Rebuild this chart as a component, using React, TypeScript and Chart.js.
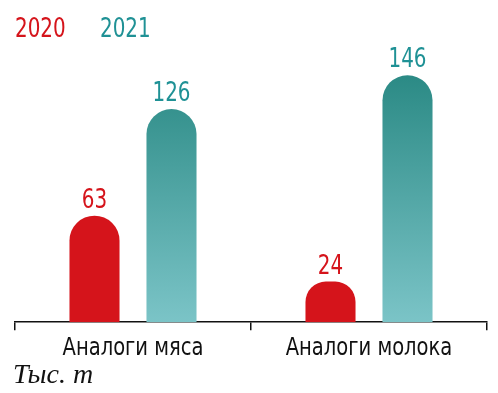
import React, { useEffect, useRef } from 'react';
import { Chart, registerables } from 'chart.js';

Chart.register(...registerables);

const categories = ['Аналоги мяса', 'Аналоги молока'];
const seriesNames = ['2020', '2021'];
const values2020 = [63, 24];
const values2021 = [126, 146];
const unitLabel = 'Тыс. т';

const RED = '#d5141b';
const TEAL_TEXT = '#1f9195';
const TEAL_TOP = '#2b8a85';
const TEAL_BOTTOM = '#7bc4c7';
const NARROW = "'DejaVu Sans Condensed', 'DejaVu Sans', sans-serif";

function squeezedText(ctx: CanvasRenderingContext2D, text: string, x: number, y: number, sx: number, align: 'left' | 'center') {
  ctx.save();
  ctx.translate(x, y);
  ctx.scale(sx, 1);
  ctx.textAlign = align;
  ctx.fillText(text, 0, 0);
  ctx.restore();
}

const labelsPlugin = {
  id: 'customLabels',
  afterDatasetsDraw(chart: any) {
    const ctx = chart.ctx;
    ctx.save();
    ctx.textBaseline = 'alphabetic';
    // legend
    ctx.font = `27px ${NARROW}`;
    const legendX = [15, 100];
    chart.data.datasets.forEach((ds: any, i: number) => {
      ctx.fillStyle = ds.textColor;
      squeezedText(ctx, ds.label, legendX[i], 37, 0.82, 'left');
    });
    // value labels
    chart.data.datasets.forEach((ds: any, i: number) => {
      const meta = chart.getDatasetMeta(i);
      ctx.fillStyle = ds.textColor;
      meta.data.forEach((bar: any, j: number) => {
        squeezedText(ctx, String(ds.data[j]), bar.x, bar.y - 8, 0.82, 'center');
      });
    });
    // category labels
    ctx.font = `24px ${NARROW}`;
    ctx.fillStyle = '#111';
    const xs = chart.scales.x;
    categories.forEach((c, i) => {
      squeezedText(ctx, c, xs.getPixelForValue(i), 355, 0.905, 'center');
    });
    // unit
    ctx.fillStyle = '#111';
    ctx.font = `italic 28px 'Liberation Serif', 'DejaVu Serif', serif`;
    ctx.textAlign = 'left';
    ctx.fillText(unitLabel, 13, 383);
    ctx.restore();
  },
};

export default function App() {
  const ref = useRef<HTMLCanvasElement>(null);
  useEffect(() => {
    if (!ref.current) return;
    const maxTeal = Math.max(...values2021);
    const chart = new Chart(ref.current, {
      type: 'bar',
      data: {
        labels: categories,
        datasets: [
          {
            label: seriesNames[0],
            data: values2020,
            backgroundColor: RED,
            textColor: RED,
            borderRadius: { topLeft: 25, topRight: 25, bottomLeft: 0, bottomRight: 0 },
            borderSkipped: 'bottom',
            barPercentage: 0.65,
            categoryPercentage: 0.6525,
          } as any,
          {
            label: seriesNames[1],
            data: values2021,
            textColor: TEAL_TEXT,
            backgroundColor: (c: any) => {
              const ch = c.chart;
              if (!ch.chartArea || !ch.scales.y) return TEAL_BOTTOM;
              const y = ch.scales.y;
              const g = ch.ctx.createLinearGradient(0, y.getPixelForValue(maxTeal), 0, y.getPixelForValue(0));
              g.addColorStop(0, TEAL_TOP);
              g.addColorStop(1, TEAL_BOTTOM);
              return g;
            },
            borderRadius: { topLeft: 25, topRight: 25, bottomLeft: 0, bottomRight: 0 },
            borderSkipped: 'bottom',
            barPercentage: 0.65,
            categoryPercentage: 0.6525,
          } as any,
        ],
      },
      options: {
        animation: false,
        responsive: false,
        maintainAspectRatio: false,
        layout: { padding: { top: 60, left: 15, right: 11, bottom: 26 } },
        plugins: { legend: { display: false }, tooltip: { enabled: false } },
        scales: {
          x: {
            grid: {
              display: true,
              drawOnChartArea: false,
              drawTicks: true,
              tickLength: 8,
              color: '#111',
              lineWidth: 1.5,
              offset: true,
            },
            border: { display: true, color: '#111', width: 1.5 },
            ticks: {
              color: 'rgba(0,0,0,0)',
              font: { family: NARROW, size: 24 },
              padding: 4,
            },
          },
          y: { display: false, min: 0, max: 155 },
        },
      },
      plugins: [labelsPlugin],
    });
    return () => chart.destroy();
  }, []);
  return (
    <div style={{ position: 'fixed', left: 0, top: 0, width: 498, height: 393, background: '#fff' }}>
      <canvas ref={ref} width={498} height={393} style={{ width: 498, height: 393 }} />
    </div>
  );
}
